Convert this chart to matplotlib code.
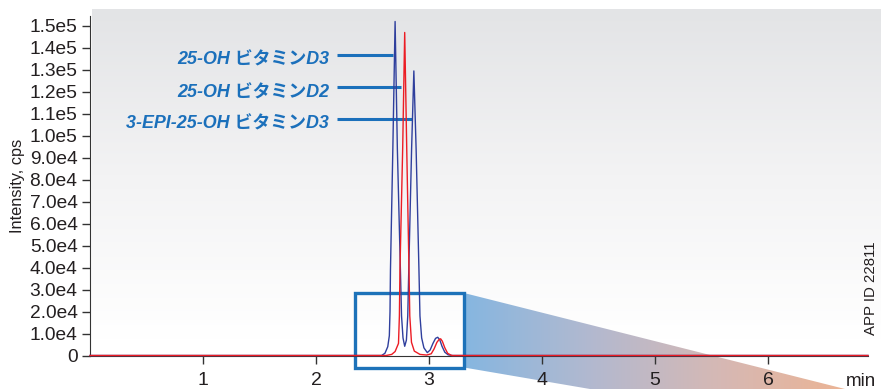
import numpy as np
import matplotlib.pyplot as plt
from matplotlib.colors import LinearSegmentedColormap
from matplotlib.patches import Polygon, Rectangle

plt.rcParams['font.family'] = ['Liberation Sans', 'Noto Sans CJK JP']

# chromatogram traces, time in min, intensity in cps
blue_t = [0.0, 2.58, 2.61, 2.635, 2.649, 2.655, 2.659, 2.680, 2.700, 2.720, 2.747,
          2.757, 2.770, 2.785, 2.800, 2.812, 2.821, 2.846, 2.866, 2.886, 2.911,
          2.920, 2.935, 2.955, 2.985, 3.010, 3.035, 3.058, 3.077, 3.095, 3.115,
          3.140, 3.170, 3.21, 6.885]
blue_i = [0, 0, 0.1e4, 0.4e4, 0.9e4, 2.0e4, 3.9e4, 9.4e4, 15.2e4, 9.4e4, 3.9e4,
          1.8e4, 0.8e4, 0.42e4, 0.7e4, 1.8e4, 3.9e4, 9.4e4, 12.95e4, 9.4e4, 3.9e4,
          1.8e4, 0.8e4, 0.35e4, 0.13e4, 0.25e4, 0.55e4, 0.78e4, 0.83e4, 0.72e4, 0.42e4,
          0.15e4, 0.03e4, 0, 0]

red_t = [0.0, 2.62, 2.67, 2.70, 2.73, 2.738, 2.743, 2.767, 2.785, 2.803, 2.823,
         2.830, 2.845, 2.87, 2.92, 2.98, 3.02, 3.045, 3.07, 3.088, 3.103, 3.118,
         3.14, 3.165, 3.20, 6.885]
red_i = [0, 0, 0.05e4, 0.18e4, 0.55e4, 1.8e4, 3.9e4, 9.4e4, 14.7e4, 9.4e4, 3.9e4,
         1.8e4, 0.6e4, 0.2e4, 0.05e4, 0.02e4, 0.08e4, 0.3e4, 0.6e4, 0.72e4, 0.76e4, 0.65e4,
         0.35e4, 0.1e4, 0, 0]

labels = ['25-OH ビタミンD3', '25-OH ビタミンD2', '3-EPI-25-OH ビタミンD3']
label_end_t = [2.684, 2.749, 2.852]
label_y = [13.67e4, 12.20e4, 10.77e4]

y_ticks = [i * 1e4 for i in range(16)]
y_ticklabels = ['0'] + ['%.1fe4' % i for i in range(1, 10)] + ['%.1fe5' % (i / 10) for i in range(10, 16)]
x_ticks = [1, 2, 3, 4, 5, 6]

W, H = 881, 389
fig = plt.figure(figsize=(W / 100, H / 100), dpi=100)

# background layer in pixel coords
bg = fig.add_axes([0, 0, 1, 1], zorder=0)
bg.set_xlim(0, W)
bg.set_ylim(H, 0)
bg.axis('off')

grey = LinearSegmentedColormap.from_list('g', ['#e3e4e6', '#f3f3f4', '#ffffff'])
bg.imshow(np.linspace(0, 1, 200).reshape(-1, 1), cmap=grey, aspect='auto',
          extent=(92, W, 340, 9), zorder=0)

fan = LinearSegmentedColormap.from_list('f', ['#86b6e0', '#b3b9cf', '#d6b8b4', '#ecb494'])
fan_img = bg.imshow(np.linspace(0, 1, 300).reshape(1, -1), cmap=fan, aspect='auto',
                    extent=(464, 850, H, 290), zorder=1)
fan_poly = Polygon([(464, 293), (845, 389), (590, 389), (464, 367.5)],
                   closed=True, facecolor='none', edgecolor='none')
bg.add_patch(fan_poly)
fan_img.set_clip_path(fan_poly)
bg.add_patch(Rectangle((354.5, 293), 109, 74.5, fill=False, edgecolor='#1d72b9',
                       linewidth=2.4, zorder=2))

# main axes
ax = fig.add_axes([90 / W, (H - 355.5) / H, (868 - 90) / W, (355.5 - 16) / H], zorder=1)
ax.patch.set_alpha(0)
ax.plot(blue_t, blue_i, color='#2f3f9d', lw=1.0, clip_on=False, zorder=3)
ax.plot(red_t, red_i, color='#ec1c24', lw=1.0, clip_on=False, zorder=4)

for lab, xe, yl in zip(labels, label_end_t, label_y):
    ax.plot([2.186, xe], [yl, yl], color='#1b70bb', lw=2.2, solid_capstyle='butt', zorder=2)
    ax.text(2.118, yl - 0.24e4, lab, ha='right', va='center', color='#1b70bb',
            fontsize=12.9, fontweight='bold', fontstyle='italic')

ax.set_xlim(0, 6.885)
ax.set_ylim(0, 15.45e4)
ax.set_xticks(x_ticks)
ax.set_xticklabels([str(x) for x in x_ticks])
ax.set_yticks(y_ticks)
ax.set_yticklabels(y_ticklabels)
for s in ['top', 'right']:
    ax.spines[s].set_visible(False)
ax.spines['left'].set_color('#333333')
ax.spines['bottom'].set_color('#333333')
ax.tick_params(axis='y', direction='out', length=6, width=1, color='#333333',
               labelsize=13.8, labelcolor='#231f20', pad=3)
ax.tick_params(axis='x', direction='out', length=6, width=1, color='#333333',
               labelsize=14, labelcolor='#231f20', pad=6)
ax.set_ylabel('Intensity, cps', fontsize=11.8, color='#231f20', labelpad=3)

fig.text(861 / W, 1 - 382 / H, 'min', fontsize=13.5, color='#231f20', ha='center', va='center')
fig.text(871 / W, 1 - 288 / H, 'APP ID 22811', fontsize=10.8, color='#231f20',
         rotation=90, ha='center', va='center')

fig.savefig('out.png', dpi=100)
